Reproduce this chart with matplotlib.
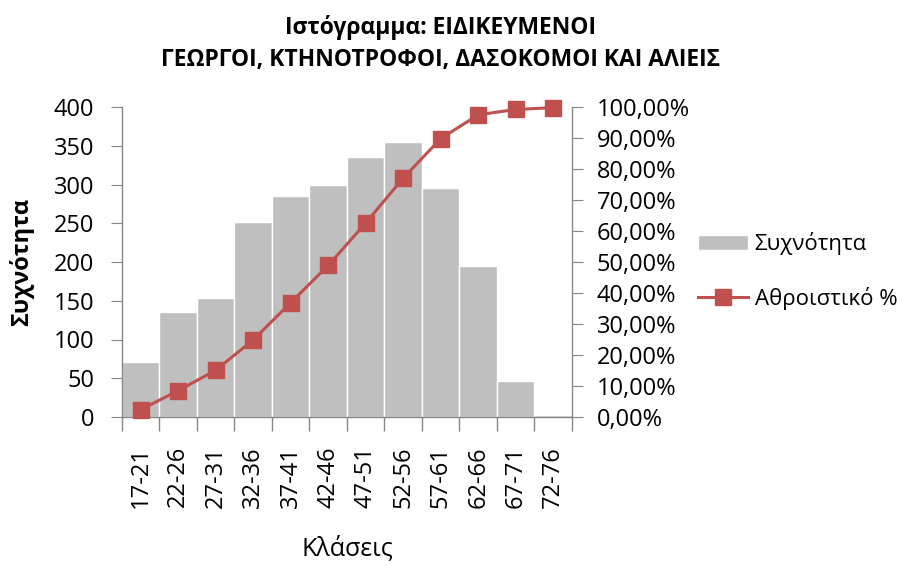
import matplotlib
matplotlib.use("Agg")
import matplotlib.pyplot as plt
from matplotlib.ticker import FuncFormatter, FixedLocator

plt.rcParams['font.family'] = ['Open Sans', 'DejaVu Sans']

classes = ["17-21", "22-26", "27-31", "32-36", "37-41", "42-46",
           "47-51", "52-56", "57-61", "62-66", "67-71", "72-76"]
freq = [71, 136, 154, 252, 285, 299, 336, 355, 296, 195, 46, 2]
cum_pct = [2.4, 8.5, 15.1, 24.9, 36.9, 48.9, 62.6, 77.1, 89.8, 97.5, 99.2, 99.8]

title_line1 = "Ιστόγραμμα: ΕΙΔΙΚΕΥΜΕΝΟΙ"
title_line2 = "ΓΕΩΡΓΟΙ, ΚΤΗΝΟΤΡΟΦΟΙ, ΔΑΣΟΚΟΜΟΙ ΚΑΙ ΑΛΙΕΙΣ"

W, H = 903, 566
fig = plt.figure(figsize=(W / 100, H / 100), dpi=100)
ax = fig.add_axes([122 / W, 1 - 417 / H, (572 - 122) / W, (417 - 107) / H])
ax2 = ax.twinx()

x = list(range(len(classes)))
bars = ax.bar(x, freq, width=1.0, color="#BFBFBF", edgecolor="white",
              linewidth=1.0, label="Συχνότητα", zorder=2)
line, = ax2.plot(x, cum_pct, color="#C0504D", linewidth=2.2, marker="s",
                 markersize=11, markerfacecolor="#C0504D",
                 markeredgecolor="#C0504D", label="Αθροιστικό %", zorder=3,
                 clip_on=False)

ax.set_xlim(-0.5, len(classes) - 0.5)
ax.set_ylim(0, 400)
ax2.set_ylim(0, 100)
ax.set_yticks(range(0, 401, 50))
ax2.set_yticks(range(0, 101, 10))
ax2.yaxis.set_major_formatter(FuncFormatter(lambda v, p: f"{v:.2f}".replace(".", ",") + "%"))

ax.xaxis.set_major_locator(FixedLocator([i - 0.5 for i in range(len(classes) + 1)]))
ax.xaxis.set_minor_locator(FixedLocator(x))
ax.set_xticklabels([], minor=False)
ax.set_xticklabels(classes, minor=True, rotation=90)
gray = "#868686"
ax.tick_params(axis="x", which="major", length=10, color=gray, width=1)
ax.tick_params(axis="x", which="minor", length=0, labelsize=17, pad=21)

for a in (ax, ax2):
    for s in a.spines.values():
        s.set_visible(False)
ax.spines["left"].set_visible(True)
ax.spines["bottom"].set_visible(True)
ax2.spines["right"].set_visible(True)
for s in (ax.spines["left"], ax.spines["bottom"], ax2.spines["right"]):
    s.set_color(gray)
    s.set_linewidth(1)

ax.tick_params(axis="y", length=8, color=gray, labelsize=17, pad=12)
ax2.tick_params(axis="y", length=8, color=gray, labelsize=17, pad=10)
ax2.set_zorder(ax.get_zorder() + 1)
ax2.patch.set_visible(False)

ax.set_ylabel("Συχνότητα", fontsize=17, fontweight="bold", labelpad=14)
ax.set_xlabel("Κλάσεις", fontsize=18, labelpad=20)

fig.text(441 / W, 1 - 34 / H, title_line1, ha="center", va="baseline",
         fontsize=16.5, fontweight="bold")
fig.text(441 / W, 1 - 66 / H, title_line2, ha="center", va="baseline",
         fontsize=16.5, fontweight="bold")

fig.legend(handles=[bars, line], loc="center left",
           bbox_to_anchor=(698 / W, 1 - 271 / H), frameon=False,
           borderpad=0, borderaxespad=0,
           fontsize=16, labelspacing=1.4, handlelength=2.25, handletextpad=0.3)

fig.savefig("out.png", dpi=100)
